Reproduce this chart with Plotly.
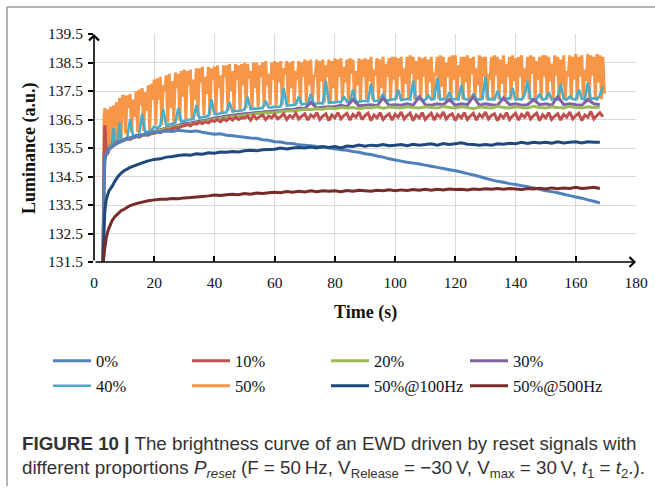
import plotly.graph_objects as go

# ---------------- data ----------------
T_EARLY = [3.0, 3.3, 3.6, 4.0, 4.5, 5.0, 6.0, 7.0, 8.0, 9.0]
T_MAIN = [10, 12, 14, 16, 18, 20, 22, 24, 26, 28,
          30, 32, 34, 36, 38, 40, 42, 44, 46, 48,
          50, 52, 54, 56, 58, 60, 62, 64, 66, 68,
          70, 72, 74, 76, 78, 80, 82, 84, 86, 88,
          90, 92, 94, 96, 98, 100, 102, 104, 106, 108,
          110, 112, 114, 116, 118, 120, 122, 124, 126, 128,
          130, 132, 134, 136, 138, 140, 142, 144, 146, 148,
          150, 152, 154, 156, 158, 160, 162, 164, 166, 168]
T_FINE_EARLY = [3.0, 3.3, 3.6, 4.0, 4.5, 5.0, 5.5, 6.0, 6.5, 7.0, 7.5, 8.0, 8.5, 9.0, 9.5]
T_FINE_MAIN = [10, 11, 12, 13, 14, 15, 16, 17, 18, 19,
               20, 21, 22, 23, 24, 25, 26, 27, 28, 29,
               30, 31, 32, 33, 34, 35, 36, 37, 38, 39,
               40, 41, 42, 43, 44, 45, 46, 47, 48, 49,
               50, 51, 52, 53, 54, 55, 56, 57, 58, 59,
               60, 61, 62, 63, 64, 65, 66, 67, 68, 69,
               70, 71, 72, 73, 74, 75, 76, 77, 78, 79,
               80, 81, 82, 83, 84, 85, 86, 87, 88, 89,
               90, 91, 92, 93, 94, 95, 96, 97, 98, 99,
               100, 101, 102, 103, 104, 105, 106, 107, 108, 109,
               110, 111, 112, 113, 114, 115, 116, 117, 118, 119,
               120, 121, 122, 123, 124, 125, 126, 127, 128, 129,
               130, 131, 132, 133, 134, 135, 136, 137, 138, 139,
               140, 141, 142, 143, 144, 145, 146, 147, 148, 149,
               150, 151, 152, 153, 154, 155, 156, 157, 158, 159,
               160, 161, 162, 163, 164, 165, 166, 167, 168, 169]
T_HALF_MAIN = [10, 10.5, 11, 11.5, 12, 12.5, 13, 13.5, 14, 14.5, 15, 15.5, 16, 16.5, 17, 17.5, 18, 18.5, 19, 19.5,
               20, 20.5, 21, 21.5, 22, 22.5, 23, 23.5, 24, 24.5, 25, 25.5, 26, 26.5, 27, 27.5, 28, 28.5, 29, 29.5,
               30, 30.5, 31, 31.5, 32, 32.5, 33, 33.5, 34, 34.5, 35, 35.5, 36, 36.5, 37, 37.5, 38, 38.5, 39, 39.5,
               40, 40.5, 41, 41.5, 42, 42.5, 43, 43.5, 44, 44.5, 45, 45.5, 46, 46.5, 47, 47.5, 48, 48.5, 49, 49.5,
               50, 50.5, 51, 51.5, 52, 52.5, 53, 53.5, 54, 54.5, 55, 55.5, 56, 56.5, 57, 57.5, 58, 58.5, 59, 59.5,
               60, 60.5, 61, 61.5, 62, 62.5, 63, 63.5, 64, 64.5, 65, 65.5, 66, 66.5, 67, 67.5, 68, 68.5, 69, 69.5,
               70, 70.5, 71, 71.5, 72, 72.5, 73, 73.5, 74, 74.5, 75, 75.5, 76, 76.5, 77, 77.5, 78, 78.5, 79, 79.5,
               80, 80.5, 81, 81.5, 82, 82.5, 83, 83.5, 84, 84.5, 85, 85.5, 86, 86.5, 87, 87.5, 88, 88.5, 89, 89.5,
               90, 90.5, 91, 91.5, 92, 92.5, 93, 93.5, 94, 94.5, 95, 95.5, 96, 96.5, 97, 97.5, 98, 98.5, 99, 99.5,
               100, 100.5, 101, 101.5, 102, 102.5, 103, 103.5, 104, 104.5, 105, 105.5, 106, 106.5, 107, 107.5, 108, 108.5, 109, 109.5,
               110, 110.5, 111, 111.5, 112, 112.5, 113, 113.5, 114, 114.5, 115, 115.5, 116, 116.5, 117, 117.5, 118, 118.5, 119, 119.5,
               120, 120.5, 121, 121.5, 122, 122.5, 123, 123.5, 124, 124.5, 125, 125.5, 126, 126.5, 127, 127.5, 128, 128.5, 129, 129.5,
               130, 130.5, 131, 131.5, 132, 132.5, 133, 133.5, 134, 134.5, 135, 135.5, 136, 136.5, 137, 137.5, 138, 138.5, 139, 139.5,
               140, 140.5, 141, 141.5, 142, 142.5, 143, 143.5, 144, 144.5, 145, 145.5, 146, 146.5, 147, 147.5, 148, 148.5, 149, 149.5,
               150, 150.5, 151, 151.5, 152, 152.5, 153, 153.5, 154, 154.5, 155, 155.5, 156, 156.5, 157, 157.5, 158, 158.5, 159, 159.5,
               160, 160.5, 161, 161.5, 162, 162.5, 163, 163.5, 164, 164.5, 165, 165.5, 166, 166.5, 167, 167.5, 168, 168.5, 169, 169.5]

P0_EARLY = [131.5, 133.8, 135.0, 135.3, 135.35, 135.45, 135.55, 135.62, 135.68, 135.73]
P0_MAIN = [135.78, 135.84, 135.90, 135.95, 136.00, 136.05, 136.07, 136.10, 136.08, 136.12,
           136.10, 136.08, 136.10, 136.05, 136.02, 135.98, 136.00, 135.95, 135.93, 135.90,
           135.88, 135.85, 135.84, 135.79, 135.77, 135.72, 135.71, 135.67, 135.66, 135.61,
           135.60, 135.58, 135.55, 135.53, 135.50, 135.47, 135.44, 135.42, 135.38, 135.35,
           135.30, 135.27, 135.22, 135.18, 135.12, 135.08, 135.04, 135.00, 134.97, 134.94,
           134.90, 134.86, 134.82, 134.78, 134.74, 134.70, 134.66, 134.60, 134.55, 134.50,
           134.44, 134.38, 134.33, 134.30, 134.25, 134.22, 134.18, 134.14, 134.10, 134.05,
           134.00, 133.97, 133.93, 133.88, 133.83, 133.78, 133.74, 133.68, 133.63, 133.57]

P10_EARLY = [131.5, 134.5, 136.3, 135.5, 135.3, 135.45, 135.5, 135.55, 135.58, 135.62,
             135.66, 135.7, 135.7, 135.72, 135.75]
P10_MAIN = [135.78, 135.82, 135.80, 135.86, 135.90, 135.88, 135.94, 135.96, 135.95, 136.00,
            136.02, 136.06, 136.04, 136.10, 136.14, 136.12, 136.18, 136.22, 136.20, 136.26,
            136.28, 136.32, 136.28, 136.36, 136.34, 136.40, 136.36, 136.42, 136.38, 136.46,
            136.43, 136.50, 136.42, 136.52, 136.46, 136.55, 136.48, 136.58, 136.50, 136.56,
            136.55, 136.62, 136.48, 136.64, 136.52, 136.60, 136.66, 136.50, 136.62, 136.56,
            136.68, 136.52, 136.60, 136.70, 136.50, 136.64, 136.56, 136.72, 136.52, 136.62,
            136.70, 136.48, 136.66, 136.58, 136.74, 136.50, 136.62, 136.70, 136.46, 136.66,
            136.56, 136.74, 136.52, 136.64, 136.72, 136.48, 136.68, 136.58, 136.76, 136.50,
            136.64, 136.72, 136.46, 136.66, 136.56, 136.74, 136.50, 136.62, 136.70, 136.48,
            136.68, 136.58, 136.76, 136.52, 136.64, 136.72, 136.46, 136.66, 136.56, 136.74,
            136.50, 136.62, 136.72, 136.48, 136.68, 136.58, 136.76, 136.52, 136.64, 136.70,
            136.46, 136.66, 136.56, 136.74, 136.50, 136.62, 136.72, 136.48, 136.68, 136.58,
            136.76, 136.52, 136.64, 136.70, 136.46, 136.66, 136.56, 136.74, 136.50, 136.62,
            136.72, 136.48, 136.68, 136.58, 136.76, 136.52, 136.64, 136.72, 136.46, 136.66,
            136.56, 136.74, 136.50, 136.62, 136.70, 136.48, 136.68, 136.58, 136.76, 136.52,
            136.64, 136.72, 136.46, 136.66, 136.58, 136.78, 136.52, 136.64, 136.74, 136.60]

P20_EARLY = [131.5, 134.5, 136.0, 135.35, 135.3, 135.48, 135.58, 135.65, 135.70, 135.75]
P20_MAIN = [135.79, 135.85, 135.90, 135.96, 136.00, 136.06, 136.12, 136.18, 136.22, 136.27,
            136.30, 136.34, 136.38, 136.42, 136.46, 136.50, 136.53, 136.56, 136.60, 136.62,
            136.65, 136.68, 136.70, 136.72, 136.74, 136.75, 136.78, 136.80, 136.80, 136.83,
            136.85, 136.85, 136.88, 136.86, 136.90, 136.88, 136.92, 136.90, 136.92, 136.88,
            136.92, 136.90, 136.95, 136.90, 136.94, 136.92, 136.90, 136.95, 136.92, 136.90,
            136.95, 136.92, 136.90, 136.96, 136.92, 136.90, 136.95, 136.92, 136.88, 136.94,
            136.92, 136.90, 136.96, 136.92, 136.90, 136.95, 136.92, 136.90, 136.96, 136.92,
            136.90, 136.95, 136.92, 136.90, 136.96, 136.92, 136.90, 136.95, 136.92, 136.94]

P30_EARLY = [131.5, 134.6, 136.1, 135.4, 135.3, 135.5, 135.6, 135.68, 135.72, 135.76]
P30_MAIN = [135.80, 135.86, 135.92, 135.97, 136.02, 136.08, 136.14, 136.20, 136.25, 136.30,
            136.35, 136.38, 136.42, 136.46, 136.50, 136.55, 136.58, 136.62, 136.65, 136.68,
            136.70, 136.72, 136.75, 136.76, 136.78, 136.80, 136.82, 136.85, 136.84, 136.90,
            136.88, 137.10, 136.90, 136.93, 136.95, 136.95, 137.00, 136.95, 137.20, 136.98,
            137.00, 137.02, 136.98, 137.25, 137.00, 137.02, 137.00, 137.05, 137.00, 137.30,
            137.02, 137.00, 137.05, 137.02, 137.20, 137.00, 137.05, 137.02, 137.30, 137.00,
            137.05, 137.02, 137.00, 137.25, 137.02, 137.05, 137.00, 137.02, 137.20, 137.02,
            137.05, 137.00, 137.30, 137.02, 137.05, 137.02, 137.00, 137.20, 137.05, 137.02]

P40_EARLY = [131.5, 134.8, 136.2, 135.4, 135.3, 135.55, 135.6, 135.65, 136.2, 135.7,
             135.72, 135.75, 136.4, 135.78, 135.8]
P40_MAIN = [135.82, 135.86, 136.50, 135.92, 135.95, 135.98, 136.70, 136.05, 136.08, 136.12,
            136.25, 136.20, 136.28, 136.85, 136.30, 136.33, 136.35, 136.38, 136.90, 136.42,
            136.45, 136.48, 136.50, 136.52, 137.00, 136.55, 136.58, 136.60, 136.62, 137.20,
            136.70, 136.68, 136.72, 136.74, 136.75, 137.10, 136.78, 136.80, 136.80, 136.82,
            136.85, 137.30, 136.86, 136.88, 136.88, 136.90, 136.90, 137.15, 136.92, 136.92,
            136.95, 136.94, 136.96, 137.60, 136.98, 137.00, 137.00, 137.02, 137.30, 137.02,
            137.05, 137.04, 137.40, 137.05, 137.06, 137.08, 137.06, 137.85, 137.08, 137.10,
            137.10, 137.12, 137.10, 137.30, 137.12, 137.12, 137.55, 137.14, 137.12, 137.15,
            137.15, 137.14, 137.75, 137.15, 137.16, 137.18, 137.40, 137.16, 137.18, 137.20,
            137.20, 137.55, 137.18, 137.20, 137.22, 137.20, 137.85, 137.20, 137.22, 137.20,
            137.18, 137.35, 137.20, 137.22, 137.95, 137.20, 137.22, 137.20, 137.45, 137.20,
            137.22, 137.20, 137.70, 137.22, 137.20, 137.20, 137.40, 137.22, 137.20, 137.22,
            138.00, 137.20, 137.22, 137.20, 137.50, 137.22, 137.20, 137.25, 137.22, 137.60,
            137.20, 137.22, 137.20, 137.35, 137.85, 137.22, 137.20, 137.22, 137.40, 137.20,
            137.22, 137.45, 137.20, 137.22, 137.20, 137.75, 137.22, 137.20, 137.30, 137.22,
            137.20, 137.55, 137.22, 137.20, 137.80, 137.22, 137.25, 137.20, 137.35, 137.65]

P50_EARLY = [131.5, 136.5, 136.9, 135.4, 136.85, 135.5, 136.95, 135.65, 137.0, 135.75,
             137.1, 135.8, 137.25, 135.85, 137.35]
P50_MAIN = [137.30, 136.00, 137.35, 136.90, 137.40, 136.05, 137.20, 136.60, 137.50, 136.05,
            137.55, 137.00, 137.60, 136.10, 137.45, 136.80, 137.70, 136.10, 137.75, 137.20,
            137.90, 136.30, 137.95, 137.20, 138.00, 136.30, 137.70, 137.50, 138.05, 136.40,
            138.10, 136.90, 137.85, 136.40, 138.15, 137.60, 138.10, 136.45, 138.20, 137.30,
            138.25, 136.50, 138.20, 137.70, 138.25, 136.55, 137.90, 137.20, 138.30, 136.60,
            138.30, 137.80, 138.35, 136.65, 138.00, 137.40, 138.35, 136.65, 138.30, 137.90,
            138.35, 136.70, 138.40, 137.60, 138.05, 136.75, 138.40, 138.00, 138.40, 136.80,
            138.45, 137.50, 138.20, 136.80, 138.45, 137.90, 138.40, 136.85, 138.45, 137.70,
            138.50, 136.90, 138.45, 137.95, 138.20, 136.90, 138.50, 137.60, 138.50, 136.95,
            138.40, 138.00, 138.50, 136.95, 138.55, 137.70, 138.10, 137.00, 138.50, 137.90,
            138.55, 137.00, 138.50, 137.80, 138.55, 137.00, 138.30, 138.10, 138.55, 137.05,
            138.50, 137.60, 138.55, 137.05, 138.20, 137.90, 138.55, 137.05, 138.50, 138.00,
            138.60, 137.10, 138.55, 137.70, 138.60, 137.10, 138.00, 138.05, 138.60, 137.10,
            138.55, 137.85, 138.60, 137.10, 138.40, 138.00, 138.60, 137.10, 138.55, 137.60,
            138.65, 137.15, 138.60, 138.00, 138.65, 137.15, 138.35, 137.80, 138.60, 137.15,
            138.65, 138.10, 138.60, 137.15, 138.20, 137.70, 138.65, 137.15, 138.60, 138.00,
            138.65, 137.20, 138.60, 137.85, 138.70, 137.20, 138.25, 138.05, 138.65, 137.20,
            138.60, 137.60, 138.70, 137.20, 138.45, 138.00, 138.65, 137.20, 138.70, 137.90,
            138.70, 137.20, 138.65, 138.00, 138.70, 137.20, 138.30, 137.75, 138.70, 137.20,
            138.75, 138.10, 138.70, 137.20, 138.55, 137.90, 138.70, 137.20, 138.65, 138.00,
            138.70, 137.20, 138.60, 137.80, 138.70, 137.20, 138.15, 138.05, 138.70, 137.20,
            138.75, 137.65, 138.70, 137.20, 138.50, 138.00, 138.70, 137.20, 138.75, 137.90,
            138.75, 137.20, 138.40, 138.00, 138.70, 137.20, 138.70, 137.80, 138.75, 137.20,
            138.65, 138.10, 138.70, 137.20, 138.30, 137.70, 138.75, 137.20, 138.70, 138.00,
            138.70, 137.20, 138.10, 137.90, 138.70, 137.20, 138.75, 138.05, 138.70, 137.20,
            138.60, 137.75, 138.75, 137.20, 138.45, 138.00, 138.70, 137.20, 138.75, 137.85,
            138.65, 137.20, 138.70, 138.00, 138.75, 137.20, 138.30, 137.80, 138.70, 137.20,
            138.75, 138.10, 138.70, 137.20, 138.55, 137.90, 138.70, 137.20, 138.75, 138.00,
            138.75, 137.20, 138.70, 137.85, 138.45, 137.20, 138.75, 138.05, 138.70, 137.20,
            138.60, 137.70, 138.75, 137.20, 138.20, 138.00, 138.75, 137.20, 138.70, 137.90,
            138.80, 137.20, 138.70, 138.00, 138.75, 137.20, 138.25, 137.85, 138.80, 137.20,
            138.75, 138.05, 138.70, 137.25, 138.80, 137.80, 138.75, 137.20, 138.70, 137.40]

F100_EARLY = [131.5, 132.5, 133.3, 133.65, 133.85, 134.0, 134.15, 134.35, 134.5, 134.62]
F100_MAIN = [134.70, 134.82, 134.90, 134.98, 135.05, 135.10, 135.12, 135.18, 135.20, 135.24,
             135.26, 135.25, 135.30, 135.28, 135.33, 135.32, 135.36, 135.35, 135.38, 135.36,
             135.40, 135.42, 135.40, 135.44, 135.45, 135.46, 135.50, 135.47, 135.50, 135.52,
             135.50, 135.53, 135.50, 135.55, 135.52, 135.55, 135.50, 135.57, 135.55, 135.60,
             135.56, 135.60, 135.58, 135.62, 135.58, 135.60, 135.62, 135.58, 135.63, 135.60,
             135.62, 135.65, 135.60, 135.66, 135.62, 135.65, 135.68, 135.63, 135.62, 135.60,
             135.62, 135.60, 135.65, 135.63, 135.67, 135.65, 135.70, 135.66, 135.70, 135.68,
             135.70, 135.67, 135.72, 135.68, 135.70, 135.72, 135.68, 135.72, 135.70, 135.70]

F500_EARLY = [131.5, 131.7, 132.0, 132.3, 132.55, 132.7, 132.95, 133.1, 133.2, 133.3]
F500_MAIN = [133.35, 133.48, 133.55, 133.60, 133.65, 133.68, 133.70, 133.70, 133.73, 133.72,
             133.75, 133.76, 133.78, 133.80, 133.82, 133.85, 133.83, 133.86, 133.88, 133.86,
             133.90, 133.88, 133.92, 133.90, 133.93, 133.95, 133.93, 133.97, 133.95, 133.98,
             133.96, 134.00, 133.97, 134.00, 133.98, 134.00, 133.97, 134.01, 133.98, 134.02,
             134.00, 133.98, 134.02, 134.00, 134.03, 134.00, 134.03, 134.01, 134.04, 134.02,
             134.05, 134.02, 134.05, 134.03, 134.06, 134.04, 134.05, 134.03, 134.06, 134.04,
             134.07, 134.05, 134.08, 134.05, 134.08, 134.06, 134.04, 134.08, 134.06, 134.09,
             134.06, 134.10, 134.07, 134.10, 134.08, 134.12, 134.08, 134.10, 134.12, 134.08]

LABELS = ["0%", "10%", "20%", "30%", "40%", "50%", "50%@100Hz", "50%@500Hz"]
COLORS = ["#4F81BD", "#C0504D", "#9BBB59", "#8064A2", "#4BACC6", "#F79646", "#1F497D", "#772C2A"]
X_TICKS = [0, 20, 40, 60, 80, 100, 120, 140, 160, 180]
Y_TICKS = [131.5, 132.5, 133.5, 134.5, 135.5, 136.5, 137.5, 138.5, 139.5]
X_TITLE = "Time (s)"
Y_TITLE = "Luminance (a.u.)"
CAPTION_1 = "<b>FIGURE 10 |</b> The brightness curve of an EWD driven by reset signals with"
CAPTION_2 = ("different proportions <i>P<sub>reset</sub></i> (F = 50\u2009Hz, "
             "V<sub>Release</sub> = \u221230\u2009V, V<sub>max</sub> = 30\u2009V, "
             "<i>t</i><sub>1</sub> = <i>t</i><sub>2</sub>.).")

# ---------------- layout geometry (pixels) ----------------
W, H = 655, 489
ML, MR, MT, MB = 94, 19, 34, 227
PW, PH = W - ML - MR, H - MT - MB


def px_x(p):
    return (p - ML) / PW


def px_y(p):
    return (H - MB - p) / PH


T_A = T_EARLY + T_MAIN
T_F = T_FINE_EARLY + T_FINE_MAIN
T_H = T_FINE_EARLY + T_HALF_MAIN
series = {
    "0%": (T_A, P0_EARLY + P0_MAIN),
    "10%": (T_F, P10_EARLY + P10_MAIN),
    "20%": (T_A, P20_EARLY + P20_MAIN),
    "30%": (T_A, P30_EARLY + P30_MAIN),
    "40%": (T_F, P40_EARLY + P40_MAIN),
    "50%": (T_H, P50_EARLY + P50_MAIN),
    "50%@100Hz": (T_A, F100_EARLY + F100_MAIN),
    "50%@500Hz": (T_A, F500_EARLY + F500_MAIN),
}
color_of = dict(zip(LABELS, COLORS))
width_of = {"0%": 3, "10%": 3, "20%": 3, "30%": 3, "40%": 2.6, "50%": 3.0,
            "50%@100Hz": 3, "50%@500Hz": 3}
draw_order = ["50%", "40%", "30%", "20%", "10%", "0%", "50%@100Hz", "50%@500Hz"]
legend_of = {"0%": "legend", "10%": "legend", "20%": "legend", "30%": "legend",
             "40%": "legend2", "50%": "legend2", "50%@100Hz": "legend2", "50%@500Hz": "legend2"}

fig = go.Figure()
for name in draw_order:
    xs, ys = series[name]
    fig.add_trace(go.Scatter(
        x=xs, y=ys, mode="lines", name=name,
        line=dict(color=color_of[name], width=width_of[name], simplify=False),
        legend=legend_of[name], legendrank=LABELS.index(name) + 1,
    ))

serif = "Liberation Serif, Times New Roman, serif"
sans = "Liberation Sans, Arial, sans-serif"

leg_common = dict(orientation="h", xanchor="left", yanchor="middle",
                  font=dict(family=serif, size=16.5, color="#111"), itemwidth=38,
                  entrywidth=86, bgcolor="rgba(0,0,0,0)", borderwidth=0)

fig.update_layout(
    width=W, height=H,
    margin=dict(l=ML, r=MR, t=MT, b=MB, autoexpand=False),
    paper_bgcolor="white", plot_bgcolor="white",
    font=dict(family=serif, size=15.5, color="#111"),
    xaxis=dict(range=[0, 180], tickvals=X_TICKS, ticks="inside", ticklen=6, tickwidth=1.5,
               tickcolor="black", showgrid=True, gridcolor="#d9d9d9", gridwidth=1,
               zeroline=False, showline=False, ticklabelstandoff=9,
               tickfont=dict(family=serif, size=15.5, color="#111")),
    yaxis=dict(range=[131.5, 139.5], tickvals=Y_TICKS, tickformat=".1f", ticks="outside",
               ticklen=5, tickwidth=1.5, tickcolor="black", showgrid=True,
               gridcolor="#d9d9d9", gridwidth=1, zeroline=False, showline=False,
               ticklabelstandoff=2,
               tickfont=dict(family=serif, size=15.5, color="#111")),
    legend=dict(x=px_x(48), y=px_y(361), **leg_common),
    legend2=dict(x=px_x(48), y=px_y(386), **leg_common),
    showlegend=True,
)

# axis lines with arrowheads
fig.add_annotation(x=180, y=131.5, ax=0, ay=131.5, xref="x", yref="y", axref="x", ayref="y",
                   text="", showarrow=True, arrowhead=4, arrowsize=1.2, arrowwidth=1.6,
                   arrowcolor="black", standoff=0)
fig.add_annotation(x=0, y=139.5, ax=0, ay=131.5, xref="x", yref="y", axref="x", ayref="y",
                   text="", showarrow=True, arrowhead=4, arrowsize=1.2, arrowwidth=1.6,
                   arrowcolor="black", standoff=0)

# axis titles
fig.add_annotation(x=0.5, y=px_y(312), xref="paper", yref="paper", text="<b>" + X_TITLE + "</b>",
                   showarrow=False, font=dict(family=serif, size=18, color="#111"),
                   xanchor="center", yanchor="middle")
fig.add_annotation(x=px_x(29), y=0.5, xref="paper", yref="paper", text="<b>" + Y_TITLE + "</b>",
                   showarrow=False, textangle=-90, font=dict(family=serif, size=18, color="#111"),
                   xanchor="center", yanchor="middle")

# caption
fig.add_annotation(x=px_x(20), y=px_y(443), xref="paper", yref="paper", text=CAPTION_1,
                   showarrow=False, font=dict(family=sans, size=18.8, color="#333"),
                   xanchor="left", yanchor="middle", align="left")
fig.add_annotation(x=px_x(20), y=px_y(469), xref="paper", yref="paper", text=CAPTION_2,
                   showarrow=False, font=dict(family=sans, size=18.8, color="#333"),
                   xanchor="left", yanchor="middle", align="left")

# frame lines (top and left)
fig.add_shape(type="line", xref="paper", yref="paper", x0=px_x(7), y0=px_y(7), x1=px_x(655),
              y1=px_y(7), line=dict(color="#9a9a9a", width=1.5))
fig.add_shape(type="line", xref="paper", yref="paper", x0=px_x(7), y0=px_y(7), x1=px_x(7),
              y1=px_y(486), line=dict(color="#9a9a9a", width=1.5))

fig.write_html("out.html", config={"displayModeBar": False},
               post_script="document.body.style.margin='0px';")
